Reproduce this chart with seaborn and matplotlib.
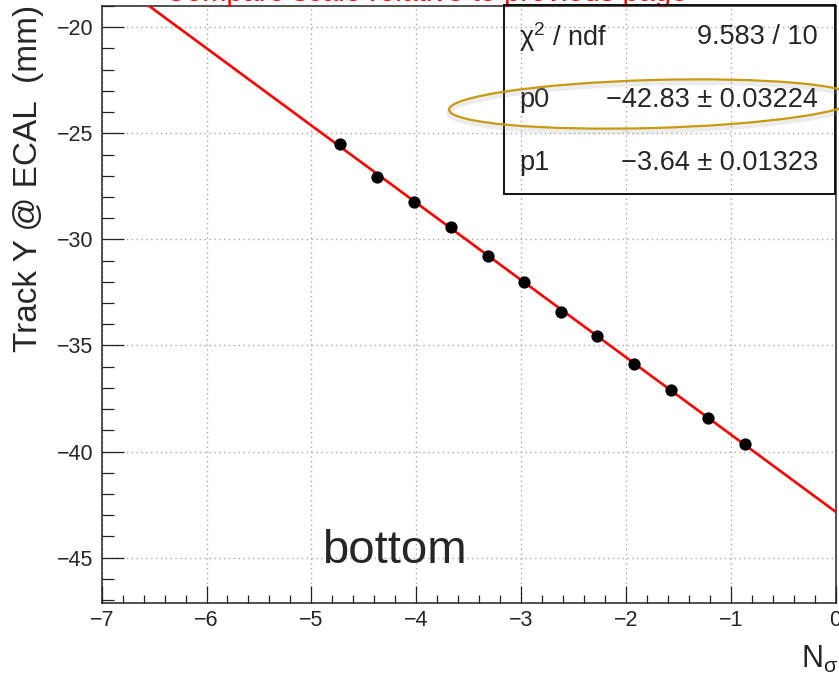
import numpy as np
import pandas as pd
import matplotlib
matplotlib.use("Agg")
import matplotlib.pyplot as plt
import matplotlib.transforms as mtransforms
from matplotlib.patches import Rectangle, Ellipse
from matplotlib.ticker import MultipleLocator
import seaborn as sns

# Measured track position at the ECAL versus beam offset in units of sigma
n_sigma = [-4.725, -4.375, -4.021, -3.672, -3.319, -2.971,
           -2.622, -2.271, -1.921, -1.568, -1.219, -0.865]
track_y = [-25.52, -27.05, -28.24, -29.42, -30.79, -32.03,
           -33.41, -34.56, -35.85, -37.09, -38.40, -39.64]

# Linear fit results (pol1: y = p0 + p1 * x)
chi2, ndf = 9.583, 10
p0, p0_err = -42.83, 0.03224
p1, p1_err = -3.64, 0.01323

x_range = (-7.0, 0.0)
y_range = (-47.15, -19.0)

sns.set_theme(style="white")
plt.rcParams["font.family"] = ["Liberation Sans", "DejaVu Sans"]
plt.rcParams["mathtext.fontset"] = "custom"
plt.rcParams["mathtext.rm"] = "Liberation Sans"
plt.rcParams["mathtext.it"] = "Liberation Sans:italic"
plt.rcParams["axes.unicode_minus"] = True

W, H = 839, 678
fig = plt.figure(figsize=(W / 100, H / 100), dpi=100)
fig.patch.set_facecolor("white")

ax_l, ax_r, ax_t, ax_b = 101.7, 835.5, 6.0, 603.3
ax = fig.add_axes([ax_l / W, 1 - ax_b / H, (ax_r - ax_l) / W, (ax_b - ax_t) / H])
ax.set_facecolor("white")

df = pd.DataFrame({"n_sigma": n_sigma, "track_y": track_y})
fit_x = np.array(x_range)
fit_df = pd.DataFrame({"x": fit_x, "y": p0 + p1 * fit_x})

ax.grid(True, which="major", linestyle=(0, (1, 2.5)), color="#a8a8a8", lw=1.0)
ax.set_axisbelow(True)

sns.lineplot(data=fit_df, x="x", y="y", ax=ax, color="red", lw=1.9, zorder=3)
sns.scatterplot(data=df, x="n_sigma", y="track_y", ax=ax, color="black",
                s=78, edgecolor="black", linewidth=0, zorder=4)

ax.set_xlim(*x_range)
ax.set_ylim(*y_range)
ax.set_xlabel("")
ax.set_ylabel("")

ax.xaxis.set_major_locator(MultipleLocator(1))
ax.xaxis.set_minor_locator(MultipleLocator(0.2))
ax.yaxis.set_major_locator(MultipleLocator(5))
ax.yaxis.set_minor_locator(MultipleLocator(1))
ax.tick_params(axis="x", which="major", direction="in", length=12.5, width=0.9,
               color="#222222", labelsize=15.5, pad=5, bottom=True, top=False)
ax.tick_params(axis="x", which="minor", direction="in", length=6, width=0.9,
               color="#222222", bottom=True, top=False)
ax.tick_params(axis="y", which="major", direction="in", length=16, width=0.9,
               color="#222222", labelsize=15.5, pad=6, left=True, right=False)
ax.tick_params(axis="y", which="minor", direction="in", length=8.5, width=0.9,
               color="#222222", left=True, right=False)
for sp in ax.spines.values():
    sp.set_color("#222222")
    sp.set_linewidth(1.1)

# Axis titles, ROOT style: aligned to the axis ends
fig.text(29 / W, 1 - 5 / H, "Track Y @ ECAL  (mm)", rotation=90,
         ha="center", va="top", fontsize=24)
fig.text(838 / W, 1 - 668 / H, r"N$_{\mathrm{\sigma}}$", ha="right",
         va="baseline", fontsize=22)

# Fit statistics box
box_l, box_r, box_t, box_b = 503.5, 835.0, 5.0, 194.0
fig.add_artist(Rectangle((box_l / W, 1 - box_b / H), (box_r - box_l) / W,
                         (box_b - box_t) / H, transform=fig.transFigure,
                         fill=False, edgecolor="#111111", lw=1.4, zorder=5))
rows = [
    (r"$\mathrm{\chi}^{2}$ / ndf", f"{chi2:.3f} / {ndf}", 37),
    ("p0", f"\u2212{abs(p0):.2f} \u00b1 {p0_err:.5f}", 100),
    ("p1", f"\u2212{abs(p1):.2f} \u00b1 {p1_err:.5f}", 163),
]
for lab, val, yc in rows:
    fig.text(519 / W, 1 - yc / H, lab, ha="left", va="center", fontsize=19.5)
    fig.text(818 / W, 1 - yc / H, val, ha="right", va="center", fontsize=19.5)

# Highlight ring around the offset parameter
pix = mtransforms.IdentityTransform()
fig.add_artist(Ellipse((653, H - 107), 408, 48, angle=1.6, transform=pix,
                       fill=False, edgecolor="#9a9a9a", lw=4, alpha=0.18, zorder=6))
fig.add_artist(Ellipse((653, H - 104), 408, 48, angle=1.6, transform=pix,
                       fill=False, edgecolor="#c99a10", lw=1.6, zorder=7))

fig.text(322 / W, 1 - 563 / H, "bottom", ha="left", va="baseline", fontsize=34)

fig.text(165 / W, 1 - 1 / H, "Compare scale relative to previous page",
         ha="left", va="baseline", fontsize=21, color="red")

fig.savefig("out.png", dpi=100, facecolor="white")
